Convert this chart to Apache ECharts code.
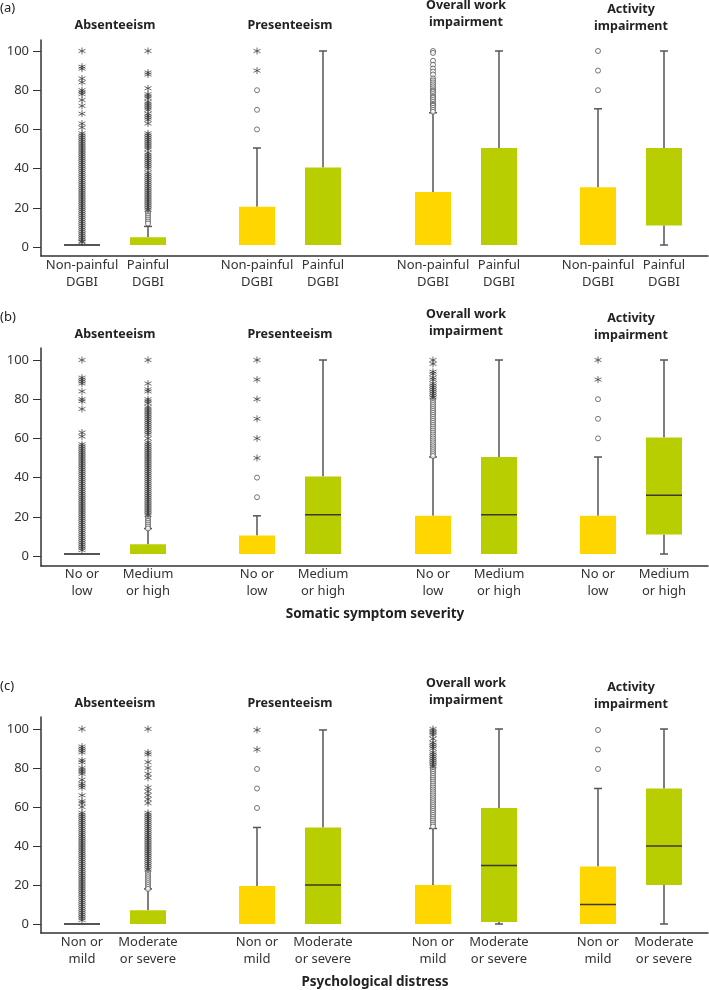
<!DOCTYPE html>
<html>
<head>
<meta charset="utf-8">
<script src="https://cdn.jsdelivr.net/npm/echarts@6/dist/echarts.min.js"></script>
<style>
html,body{margin:0;padding:0;background:#fff;}
#chart{width:709px;height:990px;}
</style>
</head>
<body>
<div id="chart"></div>
<script>
// ---------------- DATA ----------------
const panelLabels = ['(a)', '(b)', '(c)'];
const groupTitles = ['Absenteeism', 'Presenteeism', 'Overall work\nimpairment', 'Activity\nimpairment'];
const axisNames = ['', 'Somatic symptom severity', 'Psychological distress'];
const catsA = ['Non-painful\nDGBI', 'Painful\nDGBI'];
const catsB = ['No or\nlow', 'Medium\nor high'];
const catsC = ['Non or\nmild', 'Moderate\nor severe'];
const yMin = 0, yMax = 100, yStep = 20;

// box stats: [min, Q1, median, Q3, max]; per group: [first category, second category]
const boxesA = [
  [[1, 1, 1, 1, 1], [1, 1, 1, 5, 10.5]],
  [[1, 1, 1, 20.5, 50.5], [1, 1, 1, 40.5, 100]],
  [[1, 1, 1, 28, 68.5], [1, 1, 1, 50.5, 100]],
  [[1, 1, 1, 30.5, 70.5], [1, 11, 11, 50.5, 100]]
];
const boxesB = [
  [[1, 1, 1, 1, 1], [1, 1, 1, 6, 14]],
  [[1, 1, 1, 10.5, 20.5], [1, 1, 21, 40.5, 100]],
  [[1, 1, 1, 20.5, 50.5], [1, 1, 21, 50.5, 100]],
  [[1, 1, 1, 20.5, 50.5], [1, 11, 31, 60.5, 100]]
];
const boxesC = [
  [[0, 0, 0, 0, 0], [0, 0, 0, 7, 18]],
  [[0, 0, 0, 19.5, 49.5], [0, 0, 20, 49.5, 99.5]],
  [[0, 0, 0, 20, 49], [0, 1, 30, 59.5, 100]],
  [[0, 0, 10, 29.5, 69.5], [0, 20, 40, 69.5, 100]]
];

// outliers: mild (circles) and extreme (asterisks); per group: [first category, second category]
const mildA = [
  [[], [18, 17, 16, 15, 14, 13, 12]],
  [[60, 70, 80], []],
  [[100, 99, 95, 93, 91, 89.5, 88, 86, 85, 84, 83, 82, 81, 80, 79.5, 79, 78, 77, 76.5, 76, 75, 74, 73, 72.5, 72, 71, 70, 69], []],
  [[80, 90, 100], []]
];
const extremeA = [
  [[100, 92, 91, 86, 84, 80, 79, 78, 75, 72, 68, 63, 61, 58, 57, 56, 55, 54, 53, 52, 51, 50, 49, 48, 47, 46, 45, 44, 43, 42, 41, 40, 39, 38, 37, 36, 35, 34, 33, 32, 31, 30, 29, 28, 27, 26, 25, 24, 23, 22, 21, 20, 19, 18, 17, 16, 15, 14, 13, 12, 11, 10, 9, 8, 7, 6, 5, 4, 3, 2.5],
   [100, 89, 88, 81, 78, 77, 76, 74, 73, 72, 71, 70, 68, 67, 66, 65, 63, 58, 57, 56, 55, 54, 53, 52, 51, 50, 48, 47, 46, 45, 44, 43, 42, 41, 40, 38, 37, 36, 35, 34, 33, 32, 31, 30, 29, 28, 27, 26, 25, 24, 23, 22, 21, 20, 19]],
  [[90, 100], []],
  [[], []],
  [[], []]
];
const mildB = [
  [[], [20, 19, 18, 17, 16, 15, 14]],
  [[30, 40], []],
  [[80, 79, 78, 77, 76, 75, 74, 73, 72, 71, 70, 69, 68, 67, 66, 65, 64, 63, 62, 61, 60, 59, 58, 57, 56, 55, 54, 53, 52, 51], []],
  [[60, 70, 80], []]
];
const extremeB = [
  [[100, 91, 90, 89, 88, 84, 80, 79, 75, 63, 61, 57, 56, 55, 54, 53, 52, 51, 50, 49, 48, 47, 46, 45, 44, 43, 42, 41, 40, 39, 38, 37, 36, 35, 34, 33, 32, 31, 30, 29, 28, 27, 26, 25, 24, 23, 22, 21, 20, 19, 18, 17, 16, 15, 14, 13, 12, 11, 10, 9, 8, 7, 6, 5, 4, 3],
   [100, 88, 85, 84, 80, 79, 78, 76, 75, 74, 73, 72, 71, 70, 69, 68, 67, 66, 65, 64, 63, 62, 60, 58, 57, 56, 55, 54, 53, 52, 51, 50, 49, 48, 47, 46, 45, 44, 43, 42, 41, 40, 39, 38, 37, 36, 35, 34, 33, 32, 31, 30, 29, 28, 27, 26, 25, 24, 23, 22, 21]],
  [[50, 60, 70, 80, 90, 100], []],
  [[100, 98, 94, 93, 91, 90, 88, 87, 86, 85, 84, 83, 82, 81], []],
  [[90, 100], []]
];
const mildC = [
  [[], [27, 26, 25, 24, 23, 22, 21, 20, 19, 18]],
  [[59.5, 69.5, 79.5], []],
  [[80, 79, 78, 77, 76, 75, 74, 73, 72, 71, 70, 69, 68, 67, 66, 65, 64, 63, 62, 61, 60, 59, 58, 57, 56, 55, 54, 53, 52, 51, 50], []],
  [[79.5, 89.5, 99.5], []]
];
const extremeC = [
  [[100, 91, 90, 89, 88, 84, 83, 80, 79, 78, 77, 74, 72, 71, 70, 66, 63, 62, 60, 57, 56, 55, 54, 53, 52, 51, 50, 49, 48, 47, 46, 45, 44, 43, 42, 41, 40, 39, 38, 37, 36, 35, 34, 33, 32, 31, 30, 29, 28, 27, 26, 25, 24, 23, 22, 21, 20, 19, 18, 17, 16, 15, 14, 13, 12, 11, 10, 9, 8, 7, 6, 5, 4, 3, 2],
   [100, 88, 87, 83, 80, 77, 75, 70, 68, 66, 64, 62, 57, 56, 55, 54, 53, 52, 51, 50, 49, 48, 47, 46, 45, 44, 43, 42, 41, 40, 39, 38, 37, 36, 35, 34, 33, 32, 31, 30, 29, 28]],
  [[89.5, 99.5], []],
  [[100, 99, 98, 97, 95, 93, 92, 91, 90, 88, 87, 86, 85, 84, 83, 82, 81], []],
  [[], []]
];

// ---------------- LAYOUT / STYLE ----------------
const FONT = 'Noto Sans';
const TEXT = '#333';
const BOX_COLORS = ['#FFD600', '#B8CE00'];
const WHISKER = '#555';
const MEDIAN = '#3a3a2a';
const BOX_W = 36, CAP_W = 8;
const GROUP_LEFTS = [49, 224, 400, 565], GROUP_W = 132;
const AXIS_LEFT = 41, AXIS_W = 667;
const panelLayout = [
  { y100: 51, y0: 247, frameTop: 40, axisY: 256 },
  { y100: 360, y0: 556, frameTop: 348, axisY: 566 },
  { y100: 729, y0: 924, frameTop: 717, axisY: 933 }
];
const panels = [
  { cats: catsA, boxes: boxesA, mild: mildA, extreme: extremeA },
  { cats: catsB, boxes: boxesB, mild: mildB, extreme: extremeB },
  { cats: catsC, boxes: boxesC, mild: mildC, extreme: extremeC }
];

const ASTERISK = 'path://M5,0L5,10M0.67,2.5L9.33,7.5M0.67,7.5L9.33,2.5';

function renderBox(params, api) {
  const ci = api.value(0);
  const mn = api.value(1), q1 = api.value(2), md = api.value(3), q3 = api.value(4), mx = api.value(5);
  const x = api.coord([ci, q1])[0];
  const py = v => api.coord([ci, v])[1];
  const hb = BOX_W / 2, hc = CAP_W / 2;
  const ws = { stroke: WHISKER, lineWidth: 1.5 };
  const ch = [];
  if (mx > q3) {
    ch.push({ type: 'line', shape: { x1: x, y1: py(q3), x2: x, y2: py(mx) }, style: ws });
    ch.push({ type: 'line', shape: { x1: x - hc, y1: py(mx), x2: x + hc, y2: py(mx) }, style: ws });
  }
  if (mn < q1) {
    ch.push({ type: 'line', shape: { x1: x, y1: py(q1), x2: x, y2: py(mn) }, style: ws });
    ch.push({ type: 'line', shape: { x1: x - hc, y1: py(mn), x2: x + hc, y2: py(mn) }, style: ws });
  }
  if (q3 > q1) {
    ch.push({ type: 'rect', shape: { x: x - hb, y: py(q3), width: BOX_W, height: py(q1) - py(q3) },
      style: { fill: BOX_COLORS[ci] } });
  }
  if (q3 === q1) {
    ch.push({ type: 'line', shape: { x1: x - hb, y1: py(md), x2: x + hb, y2: py(md) }, style: { stroke: '#555', lineWidth: 2 } });
  } else if (md > q1 && md < q3) {
    ch.push({ type: 'line', shape: { x1: x - hb, y1: py(md), x2: x + hb, y2: py(md) }, style: { stroke: MEDIAN, lineWidth: 1.5 } });
  }
  return { type: 'group', children: ch };
}

const grid = [], xAxis = [], yAxis = [], series = [], graphic = [];
panels.forEach((p, pi) => {
  const L = panelLayout[pi];
  // frame axes
  let gi = grid.length;
  grid.push({ left: AXIS_LEFT, top: L.frameTop, width: AXIS_W, height: L.axisY - L.frameTop });
  xAxis.push({ gridIndex: gi, type: 'value', min: 0, max: 1, axisLine: { show: true, onZero: false, lineStyle: { color: '#333', width: 1.5 } },
    axisTick: { show: false }, axisLabel: { show: false }, splitLine: { show: false } });
  yAxis.push({ gridIndex: gi, type: 'value', min: 0, max: 1, axisLine: { show: true, onZero: false, lineStyle: { color: '#333', width: 1.5 } },
    axisTick: { show: false }, axisLabel: { show: false }, splitLine: { show: false } });
  // tick axis
  gi = grid.length;
  grid.push({ left: AXIS_LEFT, top: L.y100, width: AXIS_W, height: L.y0 - L.y100 });
  xAxis.push({ gridIndex: gi, type: 'value', show: false, min: 0, max: 1 });
  yAxis.push({ gridIndex: gi, type: 'value', min: yMin, max: yMax, interval: yStep,
    axisLine: { show: false }, splitLine: { show: false },
    axisTick: { show: true, length: 8, lineStyle: { color: '#333', width: 1 } },
    axisLabel: { margin: 12, fontSize: 13, color: TEXT, fontFamily: FONT } });
  // groups
  GROUP_LEFTS.forEach((gl, g) => {
    const k = grid.length;
    grid.push({ left: gl, top: L.y100, width: GROUP_W, height: L.y0 - L.y100 });
    xAxis.push({ gridIndex: k, type: 'category', data: p.cats, boundaryGap: true,
      axisLine: { show: false }, axisTick: { show: false }, splitLine: { show: false },
      axisLabel: { interval: 0, margin: 10, fontSize: 13, lineHeight: 17, color: TEXT, fontFamily: FONT } });
    yAxis.push({ gridIndex: k, type: 'value', show: false, min: yMin, max: yMax });
    series.push({ type: 'custom', xAxisIndex: k, yAxisIndex: k, renderItem: renderBox, clip: false, z: 2,
      encode: { x: 0, y: [1, 2, 3, 4, 5] },
      data: p.boxes[g].map((b, i) => [i].concat(b)) });
    const mildPts = [], extPts = [];
    p.mild[g].forEach((arr, i) => arr.forEach(v => mildPts.push([i, v])));
    p.extreme[g].forEach((arr, i) => arr.forEach(v => extPts.push([i, v])));
    series.push({ type: 'scatter', xAxisIndex: k, yAxisIndex: k, data: mildPts, symbol: 'circle', symbolSize: 5, z: 3, clip: false,
      itemStyle: { color: '#fff', borderColor: '#555', borderWidth: 1 } });
    series.push({ type: 'scatter', xAxisIndex: k, yAxisIndex: k, data: extPts, symbol: ASTERISK, symbolSize: 7, z: 4, clip: false,
      itemStyle: { color: 'none', borderColor: '#333', borderWidth: 0.9 } });
    // group title
    const cx = gl + GROUP_W / 2;
    const off = g === 2 ? -37.5 : (g === 3 ? -33.5 : -26);
    graphic.push({ type: 'text', x: cx, y: L.y100 + off, silent: true,
      style: { text: groupTitles[g], fill: '#222', fontSize: 12.5, fontWeight: 'bold', fontFamily: FONT,
        lineHeight: 17, align: 'center', verticalAlign: 'middle' } });
  });
  graphic.push({ type: 'text', x: 0, y: L.y100 - 43, silent: true,
    style: { text: panelLabels[pi], fill: '#222', fontSize: 13, fontFamily: FONT, align: 'left', verticalAlign: 'middle' } });
  if (axisNames[pi]) {
    graphic.push({ type: 'text', x: 375, y: L.y0 + 58, silent: true,
      style: { text: axisNames[pi], fill: '#222', fontSize: 13.5, fontWeight: 'bold', fontFamily: FONT, align: 'center', verticalAlign: 'middle' } });
  }
});

const chart = echarts.init(document.getElementById('chart'), null, { renderer: 'canvas' });
chart.setOption({
  animation: false,
  backgroundColor: '#fff',
  textStyle: { fontFamily: FONT },
  grid, xAxis, yAxis, series, graphic
});
</script>
</body>
</html>
